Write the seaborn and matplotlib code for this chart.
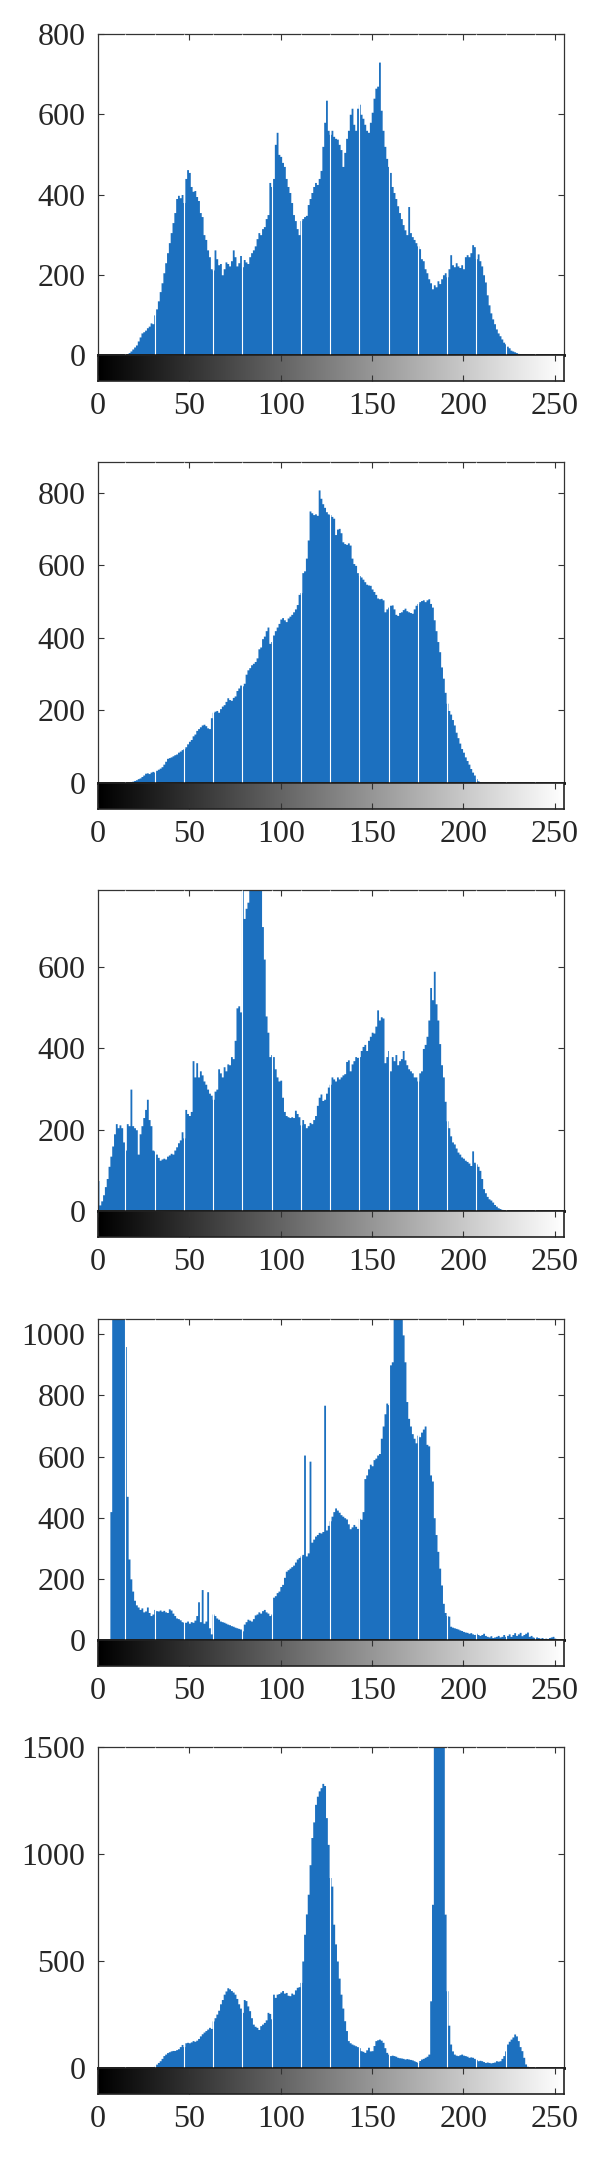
import numpy as np
import matplotlib
matplotlib.use("Agg")
import matplotlib.pyplot as plt
import seaborn as sns

# gray levels 0..255 and pixel counts
levels = np.arange(256)

counts_1 = [
    0, 0, 0, 0, 0, 0, 0, 0, 0, 0, 0, 0, 0, 0, 0, 1,
    3, 6, 10, 15, 20, 25, 35, 45, 55, 58, 62, 68, 72, 80, 78, 100,
    115, 135, 158, 180, 205, 230, 255, 280, 305, 330, 355, 390, 398, 392, 400, 380,
    440, 462, 455, 420, 408, 410, 395, 385, 355, 345, 300, 288, 262, 245, 215, 212,
    262, 240, 225, 228, 200, 215, 232, 228, 222, 235, 262, 245, 222, 230, 248, 220,
    238, 232, 228, 245, 255, 262, 272, 290, 305, 300, 315, 320, 340, 350, 430, 420,
    440, 525, 555, 500, 495, 480, 470, 440, 420, 405, 380, 350, 335, 315, 300, 335,
    340, 345, 348, 375, 390, 405, 420, 430, 425, 440, 460, 520, 580, 635, 560, 550,
    560, 545, 540, 538, 525, 512, 470, 505, 540, 560, 600, 615, 575, 560, 615, 625,
    600, 590, 575, 560, 555, 580, 605, 640, 665, 670, 730, 610, 560, 520, 490, 470,
    455, 420, 405, 390, 372, 355, 340, 325, 312, 300, 370, 305, 295, 288, 280, 272,
    265, 240, 235, 215, 205, 190, 180, 165, 175, 170, 185, 178, 190, 200, 205, 195,
    215, 250, 225, 220, 230, 222, 218, 225, 215, 245, 250, 245, 255, 275, 270, 240,
    252, 235, 222, 200, 182, 150, 125, 105, 90, 78, 65, 55, 48, 40, 32, 28,
    22, 18, 12, 10, 8, 6, 4, 3, 2, 2, 1, 1, 0, 0, 0, 0,
    0, 0, 0, 0, 0, 0, 0, 0, 0, 0, 0, 0, 0, 0, 0, 0,
]

counts_2 = [
    0, 0, 0, 0, 0, 0, 0, 0, 0, 0, 0, 0, 0, 0, 0, 0,
    1, 2, 3, 5, 7, 9, 12, 14, 18, 22, 27, 28, 26, 30, 32, 30,
    35, 38, 41, 45, 52, 60, 68, 70, 72, 75, 78, 80, 85, 88, 92, 95,
    100, 108, 115, 120, 130, 135, 145, 150, 155, 160, 162, 158, 152, 150, 180, 195,
    198, 200, 195, 205, 212, 216, 225, 235, 230, 228, 236, 240, 255, 262, 270, 268,
    275, 300, 312, 318, 326, 330, 335, 345, 370, 375, 398, 405, 420, 430, 385, 390,
    408, 420, 430, 440, 452, 456, 450, 445, 455, 460, 465, 472, 480, 492, 520, 525,
    580, 585, 620, 670, 750, 745, 740, 742, 738, 808, 785, 770, 760, 748, 742, 740,
    735, 730, 685, 700, 702, 690, 665, 660, 658, 662, 656, 620, 605, 600, 580, 572,
    568, 562, 555, 548, 546, 545, 535, 528, 520, 510, 508, 509, 505, 472, 480, 485,
    490, 491, 480, 465, 462, 470, 472, 478, 482, 475, 472, 470, 468, 480, 490, 495,
    500, 503, 505, 500, 505, 508, 495, 485, 450, 420, 390, 362, 320, 289, 250, 220,
    200, 190, 175, 160, 140, 125, 110, 95, 85, 72, 62, 52, 40, 30, 22, 12,
    6, 3, 1, 0, 0, 0, 0, 0, 0, 0, 0, 0, 0, 0, 0, 0,
    0, 0, 0, 0, 0, 0, 0, 0, 0, 0, 0, 0, 0, 0, 0, 0,
    0, 0, 0, 0, 0, 0, 0, 0, 0, 0, 0, 0, 0, 0, 0, 0,
]

counts_3 = [
    75, 15, 25, 40, 60, 80, 110, 135, 160, 190, 215, 205, 212, 205, 170, 150,
    215, 210, 300, 210, 205, 200, 140, 190, 210, 230, 250, 275, 225, 210, 150, 148,
    140, 132, 125, 128, 130, 128, 135, 138, 142, 140, 150, 158, 168, 175, 195, 180,
    250, 240, 235, 245, 370, 330, 365, 330, 345, 335, 320, 312, 300, 290, 285, 275,
    295, 300, 350, 340, 330, 355, 345, 362, 360, 380, 375, 420, 500, 505, 490, 900,
    720, 745, 760, 800, 900, 850, 950, 880, 900, 860, 700, 620, 480, 440, 380, 385,
    380, 350, 330, 320, 322, 280, 245, 235, 232, 230, 232, 230, 248, 240, 232, 212,
    225, 215, 205, 210, 218, 215, 225, 235, 260, 280, 288, 272, 275, 290, 305, 312,
    330, 325, 320, 330, 325, 330, 335, 338, 368, 372, 345, 362, 370, 380, 378, 380,
    395, 405, 410, 395, 420, 430, 440, 438, 455, 495, 470, 478, 475, 365, 380, 395,
    345, 380, 370, 385, 360, 370, 375, 395, 372, 360, 350, 345, 340, 330, 330, 320,
    340, 345, 400, 410, 430, 470, 550, 520, 590, 510, 470, 412, 360, 330, 270, 222,
    205, 185, 170, 165, 155, 145, 140, 133, 130, 125, 122, 118, 112, 148, 120, 116,
    110, 100, 80, 55, 45, 36, 30, 27, 22, 16, 12, 8, 6, 4, 3, 2,
    2, 1, 1, 0, 0, 0, 0, 0, 0, 0, 0, 0, 0, 0, 0, 0,
    0, 0, 0, 0, 0, 0, 0, 0, 0, 0, 0, 0, 0, 0, 0, 0,
]

counts_4 = [
    0, 0, 0, 0, 0, 0, 0, 420, 1400, 1800, 2000, 1900, 1500, 1300, 1200, 960,
    470, 265, 200, 160, 130, 115, 108, 100, 105, 92, 95, 108, 90, 80, 85, 100,
    96, 95, 98, 94, 97, 92, 90, 102, 98, 88, 80, 72, 70, 66, 60, 58,
    58, 62, 55, 60, 58, 65, 80, 125, 60, 165, 55, 62, 158, 40, 20, 85,
    80, 72, 68, 62, 60, 58, 55, 52, 50, 47, 45, 42, 40, 38, 36, 30,
    52, 60, 68, 65, 62, 70, 82, 85, 92, 88, 96, 100, 92, 88, 80, 85,
    140, 145, 155, 160, 175, 182, 205, 225, 230, 235, 240, 245, 255, 265, 270, 275,
    280, 605, 275, 285, 585, 320, 330, 340, 345, 352, 350, 355, 768, 360, 375, 390,
    405, 420, 432, 425, 418, 410, 405, 400, 396, 380, 364, 370, 378, 372, 365, 398,
    395, 420, 528, 540, 560, 575, 570, 590, 595, 605, 610, 660, 700, 740, 775, 770,
    900, 910, 1100, 1300, 1500, 1200, 1100, 998, 910, 780, 725, 700, 675, 660, 645, 670,
    665, 680, 690, 700, 640, 635, 540, 520, 400, 345, 290, 235, 180, 120, 90, 80,
    78, 45, 42, 40, 38, 36, 33, 31, 28, 26, 25, 22, 24, 20, 18, 22,
    18, 15, 18, 22, 15, 12, 10, 14, 8, 10, 12, 15, 10, 12, 18, 12,
    15, 20, 12, 18, 24, 15, 20, 25, 14, 18, 22, 26, 12, 15, 10, 8,
    10, 8, 6, 8, 5, 6, 4, 8, 10, 12, 6, 4, 2, 1, 0, 0,
]

counts_5 = [
    0, 0, 0, 0, 0, 0, 0, 0, 0, 0, 0, 0, 0, 0, 0, 0,
    0, 0, 0, 0, 0, 0, 0, 0, 0, 0, 0, 0, 0, 2, 3, 8,
    18, 26, 34, 45, 58, 65, 72, 76, 80, 82, 82, 86, 90, 100, 110, 100,
    118, 120, 118, 122, 128, 125, 130, 138, 150, 160, 168, 175, 182, 190, 185, 220,
    235, 252, 270, 300, 320, 345, 360, 375, 370, 362, 355, 345, 325, 300, 280, 260,
    320, 315, 290, 268, 235, 205, 195, 190, 180, 198, 205, 213, 225, 260, 255, 230,
    345, 330, 345, 348, 355, 362, 350, 353, 340, 338, 350, 345, 365, 377, 380, 400,
    500, 625, 720, 812, 950, 1077, 1150, 1232, 1270, 1295, 1310, 1330, 1320, 1170, 1045, 890,
    850, 672, 580, 500, 420, 345, 280, 221, 175, 128, 118, 112, 108, 104, 100, 95,
    81, 78, 73, 85, 97, 80, 81, 105, 128, 132, 135, 130, 120, 95, 73, 65,
    58, 60, 58, 55, 50, 48, 47, 45, 42, 44, 42, 40, 38, 34, 30, 26,
    35, 42, 45, 50, 55, 65, 314, 765, 1600, 1700, 1800, 1750, 1650, 1550, 719, 361,
    200, 112, 80, 65, 60, 58, 62, 65, 60, 58, 55, 50, 52, 50, 45, 40,
    34, 36, 34, 30, 26, 28, 26, 24, 26, 28, 34, 32, 34, 45, 58, 80,
    112, 125, 135, 145, 159, 150, 128, 100, 81, 50, 19, 8, 2, 0, 0, 0,
    0, 0, 0, 0, 0, 0, 0, 0, 0, 0, 0, 0, 0, 0, 0, 0,
]

all_counts = [counts_1, counts_2, counts_3, counts_4, counts_5]
y_tops = [800, 885, 790, 1050, 1500]
y_ticks = [
    [0, 200, 400, 600, 800],
    [0, 200, 400, 600, 800],
    [0, 200, 400, 600],
    [0, 200, 400, 600, 800, 1000],
    [0, 500, 1000, 1500],
]
x_ticks = [0, 50, 100, 150, 200, 250]

sns.set_style("white")
plt.rcParams["font.family"] = ["Liberation Serif", "DejaVu Serif"]

blue = "#1c70bf"
fig = plt.figure(figsize=(6, 21.6), dpi=100)

W, H = 600.0, 2160.0
left, width = 98, 466
hist_h, bar_h = 321, 26
panel_tops = [34, 462, 890, 1319, 1747]

for counts, ytop, yt, top in zip(all_counts, y_tops, y_ticks, panel_tops):
    ax = fig.add_axes([left / W, 1 - (top + hist_h) / H, width / W, hist_h / H])
    cax = fig.add_axes([left / W, 1 - (top + hist_h + bar_h) / H, width / W, bar_h / H])

    sns.histplot(x=levels, weights=counts, discrete=True, element="step",
                 fill=True, color=blue, alpha=1, linewidth=0, ax=ax)
    # thin white seams every 16 levels, as in the original rendering
    ax.vlines(np.arange(15, 256, 16), 0, ytop, colors="white", linewidth=0.8, zorder=3)

    ax.set_xlim(0, 255)
    ax.set_ylim(0, ytop)
    ax.set_yticks(yt)
    ax.set_xticks(x_ticks[1:])
    ax.set_xlabel("")
    ax.set_ylabel("")
    ax.tick_params(axis="y", direction="in", left=True, right=True, length=4,
                   width=0.8, labelsize=23, pad=9, color="#333333")
    ax.tick_params(axis="x", direction="in", top=True, bottom=False, length=4,
                   width=0.8, labelbottom=False, color="#333333")
    for side in ["top", "left", "right"]:
        ax.spines[side].set_color("#333333")
        ax.spines[side].set_linewidth(0.9)
    ax.spines["bottom"].set_color("black")
    ax.spines["bottom"].set_linewidth(2)

    # grayscale strip under each histogram
    cax.imshow(levels[None, :], cmap="gray", aspect="auto", vmin=0, vmax=255,
               extent=(0, 255, 0, 1))
    cax.set_xlim(0, 255)
    cax.set_yticks([])
    cax.set_xticks(x_ticks)
    cax.tick_params(axis="x", direction="in", top=True, bottom=True, length=4,
                    width=0.8, labelsize=23, pad=8, color="#333333")
    for side in cax.spines:
        cax.spines[side].set_color("#222222")
        cax.spines[side].set_linewidth(1.2)

fig.savefig("out.png", dpi=100, facecolor="white")
